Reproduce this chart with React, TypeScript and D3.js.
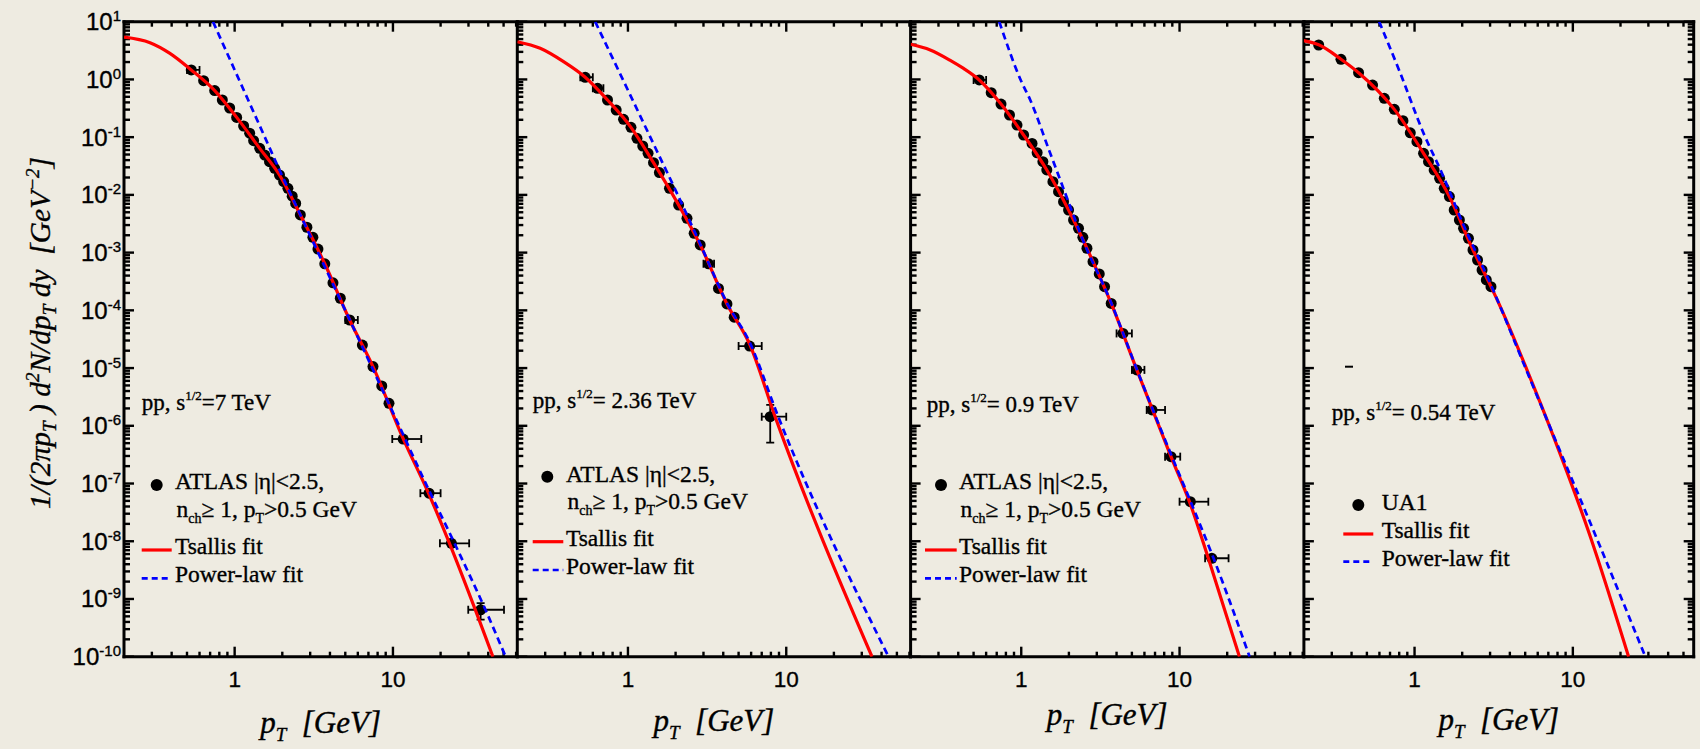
import React from "react";
import * as d3 from "d3";

// ---------- data (pT in GeV, invariant yield in GeV^-2) ----------

// pp, sqrt(s) = 7 TeV, ATLAS
const atlas7: [number, number][] = [
  [0.532, 1.46], [0.637, 0.95], [0.748, 0.64], [0.836, 0.44], [0.93, 0.32], [1.03, 0.22],
  [1.14, 0.156], [1.244, 0.117], [1.318, 0.087], [1.44, 0.064], [1.55, 0.049], [1.66, 0.0376],
  [1.79, 0.0288], [1.92, 0.0221], [2.04, 0.017], [2.17, 0.013], [2.31, 0.0095], [2.43, 0.0071],
  [2.6, 0.0045], [2.86, 0.00275], [3.12, 0.00184], [3.36, 0.00115], [3.71, 6.4e-4], [4.18, 3.0e-4],
  [4.65, 1.62e-4], [5.33, 6.8e-5], [6.41, 2.5e-5], [7.48, 1.06e-5], [8.5, 4.9e-6], [9.44, 2.45e-6],
  [11.6, 5.9e-7], [16.9, 6.8e-8], [23.4, 9.2e-9], [35.8, 6.5e-10],
];
// [point index, low, high]
const atlas7XErr: [number, number, number][] = [
  [0, 0.5, 0.6], [25, 5.0, 6.0], [30, 9.9, 15.1], [31, 14.9, 20.0], [32, 19.8, 30.3], [33, 29.9, 50.3],
];
const atlas7YErr: [number, number, number][] = [[33, 4.4e-10, 8.5e-10]];
const tsallis7: [number, number][] = [
  [0.2, 5.4], [0.292, 4.33], [0.39, 2.83], [0.532, 1.46], [0.748, 0.64], [1.03, 0.22],
  [1.44, 0.064], [1.92, 0.0221], [2.6, 0.0045], [3.71, 6.4e-4], [5.33, 6.8e-5], [7.48, 1.06e-5],
  [11.6, 6.0e-7], [16.9, 6.5e-8], [23.4, 7.6e-9], [42.8, 1e-10],
];
const power7: [number, number][] = [
  [0.73, 10], [1.0, 1.46], [1.5, 0.123], [1.92, 0.027], [2.84, 2.7e-3], [5.0, 1.0e-4],
  [10, 1.7e-6], [16.9, 7.6e-8], [24.5, 9.2e-9], [38.9, 6.0e-10], [51.5, 1e-10],
];

// pp, sqrt(s) = 2.36 TeV, ATLAS
const atlas236: [number, number][] = [
  [0.537, 1.09], [0.643, 0.70], [0.743, 0.44], [0.843, 0.295], [0.938, 0.204], [1.045, 0.148],
  [1.14, 0.0955], [1.24, 0.0703], [1.34, 0.0525], [1.45, 0.0361], [1.58, 0.0243], [1.83, 0.013],
  [2.09, 0.00668], [2.36, 0.00393], [2.62, 0.00216], [2.86, 0.00136], [3.23, 6.4e-4], [3.73, 2.4e-4],
  [4.22, 1.29e-4], [4.69, 7.6e-5], [5.87, 2.4e-5], [7.92, 1.44e-6],
];
const atlas236XErr: [number, number, number][] = [
  [0, 0.5, 0.6], [1, 0.6, 0.7], [16, 3.0, 3.5], [20, 5.0, 7.0], [21, 7.0, 10.0],
];
const atlas236YErr: [number, number, number][] = [[21, 5.1e-7, 2.3e-6]];
const tsallis236: [number, number][] = [
  [0.2, 4.5], [0.279, 3.46], [0.392, 2.03], [0.537, 1.09], [0.743, 0.44], [1.045, 0.148],
  [1.45, 0.0361], [2.09, 0.00668], [2.86, 0.00136], [4.22, 1.29e-4], [5.87, 2.6e-5],
  [8.5, 1.44e-6], [34.8, 1e-10],
];
const power236: [number, number][] = [
  [0.621, 10], [1.0, 0.65], [1.5, 0.063], [2.0, 0.012], [2.86, 1.41e-3], [4.22, 1.35e-4],
  [5.87, 2.8e-5], [8.9, 1.44e-6], [44.3, 1e-10],
];

// pp, sqrt(s) = 0.9 TeV, ATLAS
const atlas09: [number, number][] = [
  [0.543, 0.98], [0.646, 0.59], [0.745, 0.375], [0.843, 0.242], [0.94, 0.162], [1.035, 0.109],
  [1.17, 0.078], [1.26, 0.0537], [1.37, 0.0376], [1.45, 0.027], [1.585, 0.0169], [1.72, 0.01135],
  [1.85, 0.0076], [1.99, 0.00547], [2.14, 0.00367], [2.3, 0.00264], [2.45, 0.00184], [2.6, 0.00119],
  [2.84, 6.97e-4], [3.11, 4.27e-4], [3.36, 2.57e-4], [3.7, 1.32e-4], [4.39, 3.98e-5], [5.37, 9.3e-6],
  [6.7, 1.88e-6], [8.83, 2.92e-7], [11.7, 4.84e-8], [16.0, 5.07e-9],
];
const atlas09XErr: [number, number, number][] = [
  [0, 0.5, 0.6], [22, 4.0, 5.0], [23, 5.0, 6.0], [24, 6.2, 8.1], [25, 8.1, 10.1], [26, 10.0, 15.2],
  [27, 14.5, 20.4],
];
const atlas09YErr: [number, number, number][] = [];
const tsallis09: [number, number][] = [
  [0.2, 4.06], [0.266, 3.24], [0.356, 2.14], [0.432, 1.55], [0.543, 0.98], [0.745, 0.375],
  [1.035, 0.109], [1.45, 0.027], [1.99, 0.00547], [2.84, 6.97e-4], [3.7, 1.32e-4], [5.37, 9.3e-6],
  [8.83, 2.92e-7], [11.7, 4.4e-8], [15.2, 5.07e-9], [23.9, 1e-10],
];
const power09: [number, number][] = [
  [0.726, 10], [1.0, 0.93], [1.14, 0.44], [1.5, 0.059], [2.04, 0.00624], [2.36, 0.00214],
  [3.7, 1.35e-4], [5.37, 9.5e-6], [8.83, 3.2e-7], [11.7, 5.0e-8], [16.4, 5.07e-9], [27.7, 1e-10],
];

// pp, sqrt(s) = 0.54 TeV, UA1
const ua1: [number, number][] = [
  [0.248, 3.95], [0.343, 2.23], [0.443, 1.31], [0.543, 0.80], [0.644, 0.471], [0.745, 0.303],
  [0.845, 0.193], [0.94, 0.119], [1.035, 0.0834], [1.14, 0.0525], [1.225, 0.0376], [1.33, 0.0269],
  [1.44, 0.0194], [1.54, 0.013], [1.66, 0.00933], [1.78, 0.00547], [1.92, 0.00367], [2.04, 0.00264],
  [2.19, 0.00177], [2.34, 0.00111], [2.5, 7.45e-4], [2.67, 5.0e-4], [2.84, 3.36e-4], [3.04, 2.57e-4],
];
const ua1XErr: [number, number, number][] = [];
const ua1YErr: [number, number, number][] = [];
const tsallis054: [number, number][] = [
  [0.199, 4.69], [0.248, 3.98], [0.343, 2.24], [0.443, 1.31], [0.745, 0.303], [1.14, 0.0525],
  [1.66, 0.00933], [2.34, 0.00111], [3.04, 2.57e-4], [3.48, 1.16e-4], [5.13, 9.3e-6],
  [7.55, 6.5e-7], [12.9, 1.2e-8], [22.5, 1e-10],
];
const power054: [number, number][] = [
  [0.598, 10], [0.813, 1.28], [1.14, 0.117], [1.49, 0.0237], [2.0, 0.0034], [3.04, 2.75e-4],
  [5.13, 8.7e-6], [7.2, 9.3e-7], [14.9, 8.0e-9], [28.7, 1e-10],
];

const energies = ["=7 TeV", "= 2.36 TeV", "= 0.9 TeV", "= 0.54 TeV"];
const xTickLabels = [1, 10];

// ---------- layout ----------
const W = 1700;
const H = 749;
const BG = "#EEEBE1";
const TOP = 21.7;
const BOTTOM = 656.7;
const DECADE = 158.3;
const X_MIN = 0.2;
const Y_MIN = 1e-10;
const Y_MAX = 10;
const SERIF = "'Liberation Serif', 'Times New Roman', serif";
const SANS = "'Liberation Sans', Arial, sans-serif";
const INK = { fill: "#000", stroke: "#000", strokeWidth: 0.35 };

const panelLeft = [124, 517.3, 910.6, 1303.9];
const panelXMax = [61, 61, 61, 58];
const titleBaseline = [733, 731, 725, 730];

type Legend = {
  ex: number; ey: number; mx: number; my: number; tx: number;
  l1y: number; l2y: number | null; lx1: number; lx2: number; tsY: number; pwY: number;
};
const legends: Legend[] = [
  { ex: 141.7, ey: 410, mx: 156.7, my: 485, tx: 175, l1y: 489.3, l2y: 516.7, lx1: 141.7, lx2: 171.7, tsY: 550, pwY: 578.3 },
  { ex: 532.7, ey: 408.3, mx: 547.3, my: 476.7, tx: 566, l1y: 481.7, l2y: 509.3, lx1: 532.7, lx2: 563.3, tsY: 541.7, pwY: 570 },
  { ex: 926.7, ey: 411.7, mx: 941, my: 485, tx: 959, l1y: 489.3, l2y: 516.7, lx1: 925, lx2: 956.7, tsY: 550, pwY: 578.3 },
  { ex: 1331.7, ey: 420, mx: 1358.3, my: 505, tx: 1381.7, l1y: 510, l2y: null, lx1: 1343.3, lx2: 1373.3, tsY: 534, pwY: 561.7 },
];

type PanelData = {
  data: [number, number][];
  xErr: [number, number, number][];
  yErr: [number, number, number][];
  tsallis: [number, number][];
  power: [number, number][];
  source: string;
};
const panelData: PanelData[] = [
  { data: atlas7, xErr: atlas7XErr, yErr: atlas7YErr, tsallis: tsallis7, power: power7, source: "ATLAS" },
  { data: atlas236, xErr: atlas236XErr, yErr: atlas236YErr, tsallis: tsallis236, power: power236, source: "ATLAS" },
  { data: atlas09, xErr: atlas09XErr, yErr: atlas09YErr, tsallis: tsallis09, power: power09, source: "ATLAS" },
  { data: ua1, xErr: ua1XErr, yErr: ua1YErr, tsallis: tsallis054, power: power054, source: "UA1" },
];

const yScale = d3.scaleLog().domain([Y_MIN, Y_MAX]).range([BOTTOM, TOP]);

const yMajor = d3.range(-10, 2).map((e) => Math.pow(10, e));
const yMinor: number[] = [];
for (let e = -10; e < 1; e++) for (let m = 2; m <= 9; m++) yMinor.push(m * Math.pow(10, e));

function xTicksFor(max: number) {
  const major = [1, 10];
  const minor: number[] = [];
  for (const base of [0.1, 1, 10]) {
    for (let m = 2; m <= 9; m++) {
      const v = +(m * base).toFixed(3);
      if (v > X_MIN + 1e-9 && v < max) minor.push(v);
    }
  }
  return { major, minor };
}

function Panel({ i }: { i: number }) {
  const left = panelLeft[i];
  const xMax = panelXMax[i];
  const right = left + DECADE * Math.log10(xMax / X_MIN);
  const x = d3.scaleLog().domain([X_MIN, xMax]).range([left, right]);
  const pd = panelData[i];
  const lg = legends[i];
  const line = d3
    .line<[number, number]>()
    .x((d) => x(d[0]))
    .y((d) => yScale(d[1]))
    .curve(d3.curveMonotoneX);
  const { major, minor } = xTicksFor(xMax);
  const clipId = `clip-${i}`;
  const isLast = i === panelLeft.length - 1;
  const tickW = 2.4;
  const centerX = (left + right) / 2;

  return (
    <g>
      <defs>
        <clipPath id={clipId}>
          <rect x={left} y={TOP} width={right - left} height={BOTTOM - TOP} />
        </clipPath>
      </defs>

      {/* x ticks: bottom pointing up, top pointing down */}
      {major.map((v) => (
        <g key={`xM${v}`} stroke="#000" strokeWidth={tickW}>
          <line x1={x(v)} x2={x(v)} y1={BOTTOM} y2={BOTTOM - 10} />
          <line x1={x(v)} x2={x(v)} y1={TOP} y2={TOP + 10} />
        </g>
      ))}
      {minor.map((v) => (
        <g key={`xm${v}`} stroke="#000" strokeWidth={tickW}>
          <line x1={x(v)} x2={x(v)} y1={BOTTOM} y2={BOTTOM - 5} />
          <line x1={x(v)} x2={x(v)} y1={TOP} y2={TOP + 5} />
        </g>
      ))}

      {/* y ticks on the panel's left edge */}
      {yMajor.map((v) => (
        <line key={`yM${v}`} x1={left} x2={left + 10} y1={yScale(v)} y2={yScale(v)} stroke="#000" strokeWidth={tickW} />
      ))}
      {yMinor.map((v) => (
        <line key={`ym${v}`} x1={left} x2={left + 6} y1={yScale(v)} y2={yScale(v)} stroke="#000" strokeWidth={tickW} />
      ))}
      {isLast &&
        yMajor.map((v) => (
          <line key={`yRM${v}`} x1={right} x2={right - 10} y1={yScale(v)} y2={yScale(v)} stroke="#000" strokeWidth={tickW} />
        ))}
      {isLast &&
        yMinor.map((v) => (
          <line key={`yRm${v}`} x1={right} x2={right - 6} y1={yScale(v)} y2={yScale(v)} stroke="#000" strokeWidth={tickW} />
        ))}

      {/* frame */}
      <g stroke="#000" strokeWidth={3} strokeLinecap="square">
        <line x1={left} x2={left} y1={TOP} y2={BOTTOM} />
        <line x1={left} x2={right} y1={TOP} y2={TOP} />
        <line x1={left} x2={right} y1={BOTTOM} y2={BOTTOM} />
        {isLast && <line x1={right} x2={right} y1={TOP} y2={BOTTOM} />}
      </g>

      {/* x tick labels */}
      {xTickLabels.map((v) => (
        <text key={`xl${v}`} x={x(v)} y={687} textAnchor="middle" fontFamily={SANS} fontSize={22.5} {...INK}>
          {v}
        </text>
      ))}

      {/* x axis title */}
      <text x={centerX} y={titleBaseline[i]} textAnchor="middle" fontFamily={SERIF} fontStyle="italic" fontSize={31} {...INK}>
        p<tspan fontSize={19} dy={8}>T</tspan>
        <tspan dy={-8}>{"\u00a0\u00a0[GeV]"}</tspan>
      </text>

      <g clipPath={`url(#${clipId})`}>
        {/* error bars */}
        {pd.xErr.map(([k, lo, hi]) => {
          const cy = yScale(pd.data[k][1]);
          return (
            <g key={`xe${k}`} stroke="#000" strokeWidth={1.8}>
              <line x1={x(lo)} x2={x(hi)} y1={cy} y2={cy} />
              <line x1={x(lo)} x2={x(lo)} y1={cy - 4} y2={cy + 4} />
              <line x1={x(hi)} x2={x(hi)} y1={cy - 4} y2={cy + 4} />
            </g>
          );
        })}
        {pd.yErr.map(([k, lo, hi]) => {
          const cx = x(pd.data[k][0]);
          return (
            <g key={`ye${k}`} stroke="#000" strokeWidth={1.8}>
              <line x1={cx} x2={cx} y1={yScale(lo)} y2={yScale(hi)} />
              <line x1={cx - 4} x2={cx + 4} y1={yScale(lo)} y2={yScale(lo)} />
              <line x1={cx - 4} x2={cx + 4} y1={yScale(hi)} y2={yScale(hi)} />
            </g>
          );
        })}
        {/* data points */}
        {pd.data.map((d, k) => (
          <circle key={`p${k}`} cx={x(d[0])} cy={yScale(d[1])} r={5.5} fill="#000" />
        ))}
        {/* fits */}
        <path d={line(pd.tsallis) ?? ""} fill="none" stroke="#FF0000" strokeWidth={3.2} />
        <path d={line(pd.power) ?? ""} fill="none" stroke="#0000FF" strokeWidth={2.7} strokeDasharray="7 4.5" />
      </g>

      {/* legend */}
      <text x={lg.ex} y={lg.ey} fontFamily={SERIF} fontSize={23} {...INK}>
        pp, s<tspan fontSize={13} dy={-10}>1/2</tspan>
        <tspan dy={10}>{energies[i]}</tspan>
      </text>
      <circle cx={lg.mx} cy={lg.my} r={6} fill="#000" />
      {pd.source === "ATLAS" ? (
        <>
          <text x={lg.tx} y={lg.l1y} fontFamily={SERIF} fontSize={23.5} {...INK}>
            ATLAS |η|&lt;2.5,
          </text>
          <text x={lg.tx + 1.5} y={lg.l2y ?? 0} fontFamily={SERIF} fontSize={23.5} {...INK}>
            n<tspan fontSize={14} dy={6}>ch</tspan>
            <tspan dy={-6}>≥ 1, p</tspan>
            <tspan fontSize={14} dy={6}>T</tspan>
            <tspan dy={-6}>&gt;0.5 GeV</tspan>
          </text>
        </>
      ) : (
        <text x={lg.tx} y={lg.l1y} fontFamily={SERIF} fontSize={23.5} {...INK}>
          UA1
        </text>
      )}
      <line x1={lg.lx1} x2={lg.lx2} y1={lg.tsY} y2={lg.tsY} stroke="#FF0000" strokeWidth={3.2} />
      <text x={lg.tx} y={lg.tsY + 4} fontFamily={SERIF} fontSize={23.5} {...INK}>
        Tsallis fit
      </text>
      <line x1={lg.lx1} x2={lg.lx2} y1={lg.pwY} y2={lg.pwY} stroke="#0000FF" strokeWidth={2.7} strokeDasharray="6 4" />
      <text x={lg.tx} y={lg.pwY + 4} fontFamily={SERIF} fontSize={23.5} {...INK}>
        Power-law fit
      </text>
    </g>
  );
}

export default function App() {
  const yLabelX = panelLeft[0] - 3;
  return (
    <svg
      width={W}
      height={H}
      viewBox={`0 0 ${W} ${H}`}
      style={{ position: "absolute", left: 0, top: 0, display: "block" }}
    >
      <rect x={0} y={0} width={W} height={H} fill={BG} />

      {/* y tick labels, first panel only */}
      {yMajor.map((v) => {
        const e = Math.round(Math.log10(v));
        return (
          <text key={`yl${e}`} x={yLabelX} y={yScale(v) + 8.5} textAnchor="end" fontFamily={SANS} fontSize={24} {...INK}>
            10<tspan fontSize={15} dy={-9}>{String(e)}</tspan>
          </text>
        );
      })}

      {/* y axis title */}
      <text
        transform="translate(50,333) rotate(-90)"
        textAnchor="middle"
        fontFamily={SERIF}
        fontStyle="italic"
        fontSize={29.5}
        {...INK}
      >
        1/(2πp<tspan fontSize={19} dy={6}>T</tspan>
        <tspan dy={-6}>{"\u00a0) d"}</tspan>
        <tspan fontSize={19} dy={-11}>2</tspan>
        <tspan dy={11}>N/dp</tspan>
        <tspan fontSize={19} dy={6}>T</tspan>
        <tspan dy={-6}>{"\u00a0dy\u00a0\u00a0[GeV"}</tspan>
        <tspan fontSize={19} dy={-11}>{"\u2212"}2</tspan>
        <tspan dy={11}>]</tspan>
      </text>

      {panelLeft.map((_, i) => (
        <Panel key={i} i={i} />
      ))}

      {/* small dash mark in the last panel */}
      <line x1={1345} x2={1353} y1={366.7} y2={366.7} stroke="#000" strokeWidth={2} />
    </svg>
  );
}
